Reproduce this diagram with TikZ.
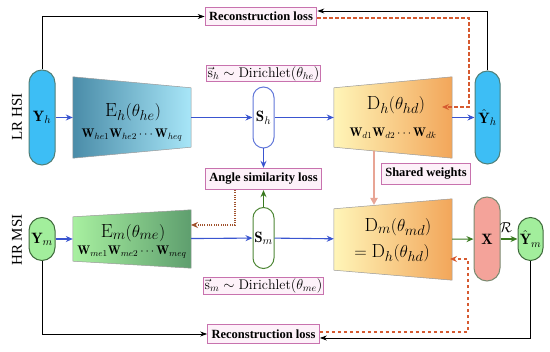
\documentclass[tikz,border=0pt]{standalone}
\usepackage{fontspec}
\newfontfamily\tnr{Liberation Serif}
\usetikzlibrary{arrows.meta,calc}
\definecolor{cyanF}{HTML}{3DBEF5}
\definecolor{cyanB}{HTML}{4F7F78}
\definecolor{greenF}{HTML}{A2EE9C}
\definecolor{greenB}{HTML}{3F6B3C}
\definecolor{salmonF}{HTML}{F4A39A}
\definecolor{salmonB}{HTML}{7A8A70}
\definecolor{pinkB}{HTML}{C872AE}
\definecolor{pinkF}{HTML}{FDF1F9}
\definecolor{blueA}{HTML}{3A55D0}
\definecolor{greenA}{HTML}{3A7A20}
\definecolor{redD}{HTML}{D65A30}
\definecolor{brownD}{HTML}{A0522D}
\definecolor{shareA}{HTML}{E8A595}
\definecolor{ehL}{HTML}{4A8CA8}
\definecolor{ehR}{HTML}{A8E6F8}
\definecolor{emL}{HTML}{A8F0A0}
\definecolor{emR}{HTML}{5E9E6E}
\definecolor{dL}{HTML}{FFF5B8}
\definecolor{dR}{HTML}{F2A65A}
\begin{document}
\begin{tikzpicture}[x=1pt,y=-1pt,
  capsule/.style={draw, line width=1pt, inner sep=0pt, font=\fontsize{15}{15}\selectfont},
  losslab/.style={draw=pinkB, fill=pinkF, line width=0.9pt, inner xsep=4pt, inner ysep=5pt,
    font=\tnr\bfseries\fontsize{12.5}{12.5}\selectfont},
  dirlab/.style={draw=pinkB, fill=pinkF, line width=0.7pt, inner sep=1pt,
    font=\fontsize{14}{14}\selectfont},
  biglab/.style={font=\fontsize{19}{19}\selectfont, inner sep=0pt},
  wlab/.style={font=\fontsize{12.5}{12.5}\selectfont, inner sep=0pt},
  barr/.style={draw=blueA, line width=1.1pt, -{Stealth[length=7pt,width=6pt]}},
  garr/.style={draw=greenA, line width=1.1pt, -{Stealth[length=7pt,width=6pt]}},
  karr/.style={draw=black, line width=0.9pt, -{Stealth[length=7pt,width=5pt]}},
  darr/.style={draw=redD, line width=1.1pt, dash pattern=on 3.5pt off 2.5pt, -{Stealth[length=7pt,width=6pt]}},
  dotarr/.style={draw=brownD, line width=1.1pt, dash pattern=on 1pt off 1.3pt, -{Stealth[length=7pt,width=6pt]}},
  trap/.style={draw=gray!80, line width=0.5pt},
  box/.style={minimum width=118pt, inner sep=0pt}
]
\useasboundingbox (0,0) rectangle (550,352);

% side labels
\node[rotate=90, font=\tnr\fontsize{15}{15}\selectfont] (lr) at (17,117) {LR HSI};
\node[rotate=90, font=\tnr\fontsize{15}{15}\selectfont] (hr) at (17,240) {HR MSI};

% trapezoid frames (invisible nodes)
\node[box, minimum height=81pt] (Eh) at (132,117.5) {};
\node[box, minimum height=81pt] (Dh) at (393,117.5) {};
\node[box, minimum height=58pt] (Em) at (132,239) {};
\node[box, minimum height=81pt] (Dm) at (393,239.5) {};

\shade[trap, left color=ehL, right color=ehR]
  (Eh.north west) -- ($(Eh.north east)+(0,11)$) -- ($(Eh.south east)+(0,-11)$) -- (Eh.south west) -- cycle;
\shade[trap, left color=dL, right color=dR]
  ($(Dh.north west)+(0,11)$) -- (Dh.north east) -- (Dh.south east) -- ($(Dh.south west)+(0,-11)$) -- cycle;
\shade[trap, left color=emL, right color=emR]
  ($(Em.north west)+(0,7)$) -- (Em.north east) -- (Em.south east) -- ($(Em.south west)+(0,-7)$) -- cycle;
\shade[trap, left color=dL, right color=dR]
  ($(Dm.north west)+(0,10)$) -- (Dm.north east) -- (Dm.south east) -- ($(Dm.south west)+(0,-10)$) -- cycle;

\node[biglab] (EhT) at (133,112) {$\mathrm{E}_h(\theta_{he})$};
\node[wlab] (EhW) at (132,135) {$\mathbf{W}_{he1}\mathbf{W}_{he2}\cdots\mathbf{W}_{heq}$};
\node[biglab] (DhT) at (396,105) {$\mathrm{D}_h(\theta_{hd})$};
\node[wlab] (DhW) at (393,133) {$\mathbf{W}_{d1}\mathbf{W}_{d2}\cdots\mathbf{W}_{dk}$};
\node[biglab] (EmT) at (133,233) {$\mathrm{E}_m(\theta_{me})$};
\node[wlab] (EmW) at (132,252) {$\mathbf{W}_{me1}\mathbf{W}_{me2}\cdots\mathbf{W}_{meq}$};
\node[biglab] (DmT) at (398,227) {$\mathrm{D}_m(\theta_{md})$};
\node[biglab] (DmT2) at (392,253) {$=\mathrm{D}_h(\theta_{hd})$};

% capsules
\node[capsule, fill=cyanF, draw=cyanB, minimum width=26pt, minimum height=95pt, rounded corners=13pt] (Yh) at (42,117.5) {$\mathbf{Y}_h$};
\node[capsule, fill=greenF, draw=greenB, minimum width=26pt, minimum height=43pt, rounded corners=13pt] (Ym) at (42,239) {$\mathbf{Y}_m$};
\node[capsule, fill=white, draw=blueA!80, minimum width=21pt, minimum height=61pt, rounded corners=10.5pt] (Sh) at (263.5,117.5) {$\mathbf{S}_h$};
\node[capsule, fill=white, draw=greenA!90, minimum width=21pt, minimum height=61pt, rounded corners=10.5pt] (Sm) at (263.5,238) {$\mathbf{S}_m$};
\node[capsule, fill=cyanF, draw=cyanB, minimum width=25pt, minimum height=93pt, rounded corners=12.5pt] (Yhh) at (487.5,117.5) {$\hat{\mathbf{Y}}_h$};
\node[capsule, fill=salmonF, draw=salmonB, minimum width=26pt, minimum height=84pt, rounded corners=13pt] (X) at (487,239) {$\mathbf{X}$};
\node[capsule, fill=greenF, draw=greenB, minimum width=25pt, minimum height=43pt, rounded corners=12.5pt] (Ymh) at (530.5,239) {$\hat{\mathbf{Y}}_m$};

% labels
\node[losslab] (recTop) at (261,16.5) {Reconstruction loss};
\node[losslab] (recBot) at (263.5,334) {Reconstruction loss};
\node[losslab] (ang) at (263.5,179) {Angle similarity loss};
\node[losslab] (sw) at (426,174) {Shared weights};
\node[dirlab] (dirh) at (263.5,73.5) {$\vec{\mathrm{s}}_h\sim\mathrm{Dirichlet}(\theta_{he})$};
\node[dirlab] (dirm) at (263.5,286) {$\vec{\mathrm{s}}_m\sim\mathrm{Dirichlet}(\theta_{me})$};

% main flow
\draw[barr] (Yh) -- (Eh);
\draw[barr] (Eh) -- (Sh);
\draw[barr] (Sh) -- (Dh);
\draw[barr] (Dh) -- (Yhh);
\draw[barr] (Ym) -- (Em);
\draw[barr] (Em) -- (Sm);
\draw[barr] (Sm) -- (Dm);
\draw[garr] (Dm) -- (X);
\draw[garr] (X) -- (Ymh);
\node[font=\fontsize{14}{14}\selectfont, inner sep=0pt] (R) at (506,228) {$\mathcal{R}$};

\draw[barr] (Sh.south) -- (Sh.south |- ang.north);
\draw[garr] (Sm.north) -- (Sm.north |- ang.south);

% shared weights
\coordinate (swTop) at (374,150.7);
\coordinate (swBot) at (374,205);
\draw[draw=shareA, line width=2pt, -{Triangle[length=7pt,width=7pt]}] (swTop) -- (swBot);

% reconstruction connectors
\draw[karr] (Yh.north) |- (recTop.west);
\draw[karr] (Yhh.north) |- ($(recTop.east)+(0,-5.5)$);
\draw[karr] (Ym.south) |- (recBot.west);
\draw[karr] (Ymh.south) |- ($(recBot.east)+(0,4)$);

\coordinate (dhIn) at (442,107);
\coordinate (dmIn) at (450,259);
\coordinate (emIn) at (191,225);
\coordinate (dotX) at (235,0);
\draw[darr] ($(recTop.east)+(0,1.5)$) -| (469,107) -- (dhIn);
\draw[darr] ($(recBot.east)+(0,-2)$) -| (468,259) -- (dmIn);
\draw[dotarr] (ang.south -| dotX) |- (emIn);
\end{tikzpicture}
\end{document}
